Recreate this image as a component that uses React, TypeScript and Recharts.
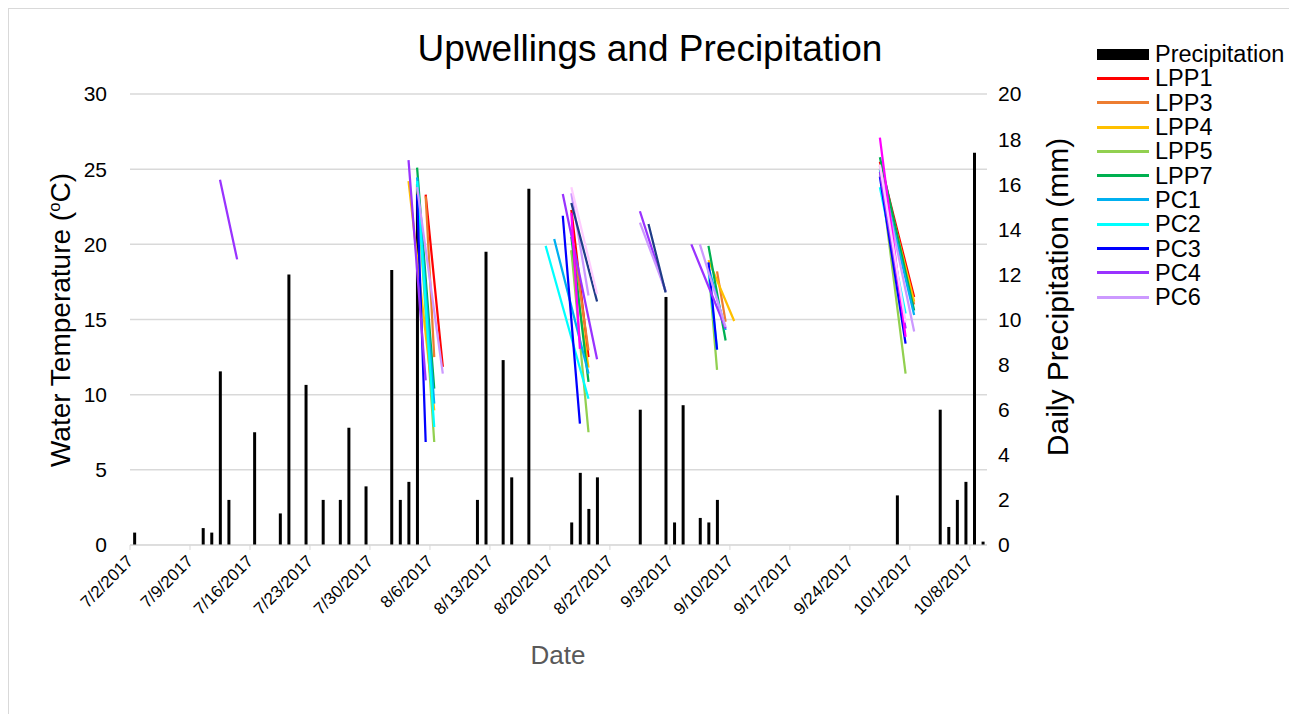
import { ComposedChart, Bar, Line, XAxis, YAxis, CartesianGrid } from "recharts";

// days are counted from 7/2/2017, one category per day
const START = Date.UTC(2017, 6, 2);
const day = (s: string) => {
  const [m, d] = s.split("/").map(Number);
  return Math.round((Date.UTC(2017, m - 1, d) - START) / 86400000);
};
const label = (n: number) => {
  const dt = new Date(START + n * 86400000);
  return `${dt.getUTCMonth() + 1}/${dt.getUTCDate()}/2017`;
};

const xTicks = [0, 7, 14, 21, 28, 35, 42, 49, 56, 63, 70, 77, 84, 91, 98];
const tempTicks = [0, 5, 10, 15, 20, 25, 30];
const precipTicks = [0, 2, 4, 6, 8, 10, 12, 14, 16, 18, 20];

// daily precipitation, mm
const precipDates = [
  "7/2", "7/10", "7/11", "7/12", "7/13", "7/16", "7/19", "7/20", "7/22", "7/24",
  "7/26", "7/27", "7/29", "8/1", "8/2", "8/3", "8/4", "8/11", "8/12", "8/14",
  "8/15", "8/17", "8/22", "8/23", "8/24", "8/25", "8/30", "9/2", "9/3", "9/4",
  "9/6", "9/7", "9/8", "9/29", "10/4", "10/5", "10/6", "10/7", "10/8", "10/9",
];
const precipValues = [
  0.55, 0.75, 0.55, 7.7, 2.0, 5.0, 1.4, 12.0, 7.1, 2.0,
  2.0, 5.2, 2.6, 12.2, 2.0, 2.8, 16.0, 2.0, 13.0, 8.2,
  3.0, 15.8, 1.0, 3.2, 1.6, 3.0, 6.0, 11.0, 1.0, 6.2,
  1.2, 1.0, 2.0, 2.2, 6.0, 0.8, 2.0, 2.8, 17.4, 0.15,
];

// upwelling water temperature runs: [start date, °C, end date, °C]
type Seg = [string, number, string, number];
const LPP1: Seg[] = [["8/5", 23.3, "8/7", 11.85], ["8/22", 22.3, "8/24", 12.5], ["9/27", 25.5, "10/1", 16.5]];
const LPP3: Seg[] = [["8/5", 23.2, "8/6", 12.5], ["8/22", 21.0, "8/24", 12.95], ["9/8", 18.2, "9/9", 14.85], ["9/27", 25.3, "10/1", 16.0]];
const LPP4: Seg[] = [["8/3", 24.2, "8/6", 8.95], ["8/22", 19.6, "8/24", 11.8], ["9/7", 18.95, "9/10", 14.9], ["9/27", 25.2, "10/1", 16.2]];
const LPP5: Seg[] = [["8/4", 24.0, "8/6", 6.85], ["8/22", 19.6, "8/24", 7.5], ["9/7", 18.5, "9/8", 11.65], ["9/27", 25.0, "9/30", 11.4]];
const LPP7: Seg[] = [["8/4", 25.1, "8/6", 10.4], ["8/22", 20.5, "8/24", 10.85], ["9/7", 19.9, "9/9", 13.6], ["9/27", 25.8, "10/1", 15.6]];
const PC1: Seg[] = [["8/4", 24.45, "8/6", 9.4], ["8/20", 20.35, "8/24", 11.4], ["9/7", 18.5, "9/9", 14.3], ["9/27", 25.0, "10/1", 15.3]];
const PC2: Seg[] = [["8/4", 24.2, "8/6", 7.85], ["8/19", 19.9, "8/24", 9.73], ["9/7", 18.3, "9/8", 13.0], ["9/27", 23.8, "9/30", 15.4]];
const PC3: Seg[] = [["8/4", 23.3, "8/5", 6.85], ["8/21", 21.9, "8/23", 8.07], ["9/7", 18.8, "9/8", 13.0], ["9/27", 24.5, "9/30", 13.4]];
const PC4: Seg[] = [["7/12", 24.3, "7/14", 19.0], ["8/3", 25.6, "8/5", 10.95], ["8/21", 23.35, "8/25", 12.35], ["8/30", 22.2, "9/2", 16.85], ["9/5", 20.0, "9/9", 14.4], ["9/27", 24.8, "9/30", 14.4]];
const PC6: Seg[] = [["8/4", 23.8, "8/7", 11.4], ["8/22", 23.4, "8/24", 16.6], ["8/30", 21.45, "9/2", 16.9], ["9/6", 20.0, "9/9", 14.5], ["9/27", 25.2, "10/1", 14.2]];
const PC7: Seg[] = [["8/22", 22.1, "8/23", 13.05], ["9/27", 27.1, "9/30", 13.85]];
const PC8: Seg[] = [["8/22", 22.75, "8/25", 16.2], ["8/31", 21.35, "9/2", 16.8]];
const PC9: Seg[] = [["8/22", 23.8, "8/25", 16.7], ["9/27", 25.3, "9/30", 14.8]];

const series = [
  { name: "LPP1", color: "#FF0000", segs: LPP1, legend: true },
  { name: "LPP3", color: "#ED7D31", segs: LPP3, legend: true },
  { name: "LPP4", color: "#FFC000", segs: LPP4, legend: true },
  { name: "LPP5", color: "#92D050", segs: LPP5, legend: true },
  { name: "LPP7", color: "#00B050", segs: LPP7, legend: true },
  { name: "PC1", color: "#00B0F0", segs: PC1, legend: true },
  { name: "PC2", color: "#00FFFF", segs: PC2, legend: true },
  { name: "PC3", color: "#0000FF", segs: PC3, legend: true },
  { name: "PC4", color: "#9933FF", segs: PC4, legend: true },
  { name: "PC6", color: "#CC99FF", segs: PC6, legend: true },
  { name: "PC7", color: "#FF00FF", segs: PC7, legend: false },
  { name: "PC8", color: "#1F3C88", segs: PC8, legend: false },
  { name: "PC9", color: "#FFCCFF", segs: PC9, legend: false },
];

const precipData = precipDates.map((d, i) => ({ x: day(d) + 0.5, p: precipValues[i] }));

const toLine = (segs: Seg[]) =>
  segs.flatMap(([d0, v0, d1, v1]) => [
    { x: day(d0) + 0.5, v: v0 },
    { x: day(d1) + 0.5, v: v1 },
    { x: day(d1) + 1, v: null },
  ]);

const FONT = '"Liberation Sans", Arial, sans-serif';

const DateTick = (props: any) => {
  const { x, y, payload } = props;
  return (
    <text
      x={x}
      y={y}
      textAnchor="end"
      fontSize={17}
      fontFamily={FONT}
      fill="#000"
      dy="0.35em"
      transform={`rotate(-45 ${x} ${y})`}
    >
      {label(payload.value)}
    </text>
  );
};

function LegendBox() {
  const rows = [{ name: "Precipitation", color: "#000", bar: true }, ...series.filter((s) => s.legend).map((s) => ({ name: s.name, color: s.color, bar: false }))];
  return (
    <div style={{ position: "absolute", left: 1088, top: 33, fontFamily: FONT, fontSize: 23.5 }}>
      {rows.map((r) => (
        <div key={r.name} style={{ display: "flex", alignItems: "center", height: 24.3 }}>
          <div style={{ width: 52, height: r.bar ? 11 : 3, background: r.color, marginRight: 6 }} />
          <span style={{ lineHeight: "24px" }}>{r.name}</span>
        </div>
      ))}
    </div>
  );
}

export default function App() {
  return (
    <div style={{ position: "relative", width: 1280, height: 720, border: "1px solid #d9d9d9", fontFamily: FONT, background: "#fff" }}>
      <div style={{ position: "absolute", left: 241, width: 800, top: 21, textAlign: "center", fontSize: 37, lineHeight: "37px" }}>
        Upwellings and Precipitation
      </div>
      <div style={{ position: "absolute", left: 46 - 200, top: 311 - 15, width: 400, height: 30, lineHeight: "30px", textAlign: "center", fontSize: 28, transform: "rotate(-90deg)" }}>
        Water Temperature (<span style={{ fontSize: "0.6em", verticalAlign: "super" }}>o</span>C)
      </div>
      <div style={{ position: "absolute", left: 1049 - 200, top: 288 - 16, width: 400, height: 32, lineHeight: "32px", textAlign: "center", fontSize: 30, transform: "rotate(-90deg)" }}>
        Daily Precipitation (mm)
      </div>
      <div style={{ position: "absolute", left: 449, width: 200, top: 646 - 14, lineHeight: "28px", textAlign: "center", fontSize: 26, color: "#595959" }}>
        Date
      </div>
      <LegendBox />
      <div style={{ position: "absolute", left: 0, top: 0 }}>
        <ComposedChart width={1280} height={706} data={precipData} margin={{ top: 85, right: 222, bottom: 90, left: 0 }}>
          <CartesianGrid yAxisId="left" vertical={false} stroke="#d9d9d9" strokeWidth={1.5} />
          <XAxis
            dataKey="x"
            type="number"
            domain={[0, 100]}
            ticks={xTicks}
            interval={0}
            height={80}
            stroke="#d9d9d9"
            tickSize={5}
            tickMargin={8}
            tick={<DateTick />}
            allowDataOverflow
          />
          <YAxis
            yAxisId="left"
            width={121}
            domain={[0, 30]}
            ticks={tempTicks}
            axisLine={false}
            tickLine={false}
            tickSize={0}
            tickMargin={23}
            tick={{ fontSize: 21, fill: "#000", fontFamily: FONT }}
          />
          <YAxis
            yAxisId="right"
            orientation="right"
            width={80}
            domain={[0, 20]}
            ticks={precipTicks}
            axisLine={false}
            tickLine={false}
            tickSize={0}
            tickMargin={11}
            tick={{ fontSize: 21, fill: "#000", fontFamily: FONT, textAnchor: "start" }}
          />
          <Bar yAxisId="right" dataKey="p" fill="#000" barSize={3} isAnimationActive={false} />
          {series.map((s) => (
            <Line
              key={s.name}
              yAxisId="left"
              data={toLine(s.segs)}
              dataKey="v"
              name={s.name}
              stroke={s.color}
              strokeWidth={2.25}
              dot={false}
              activeDot={false}
              isAnimationActive={false}
            />
          ))}
        </ComposedChart>
      </div>
    </div>
  );
}
